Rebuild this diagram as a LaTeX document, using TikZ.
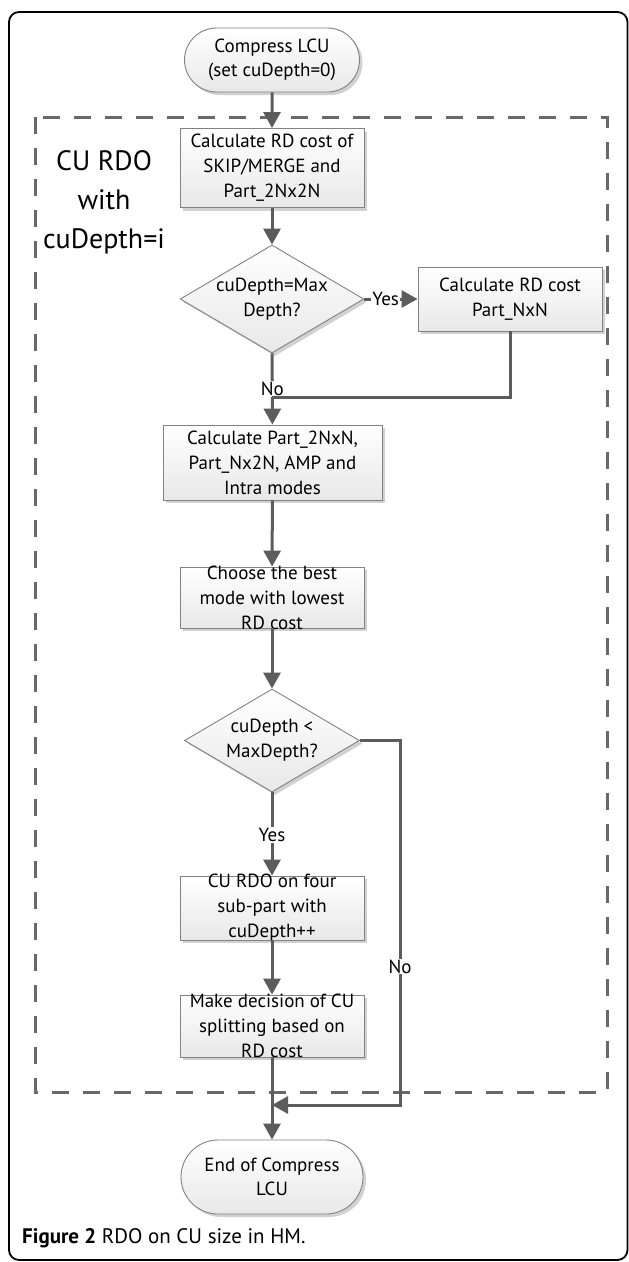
\documentclass[tikz,border=0pt]{standalone}
\usepackage{fontspec}
\setmainfont{PT Sans}
\usepackage{tikz}
\usetikzlibrary{arrows.meta,positioning,calc,shapes.geometric,shapes.misc,shadows}
\definecolor{lncolor}{RGB}{92,92,92}
\definecolor{bdcolor}{RGB}{130,130,130}
\definecolor{dshcolor}{RGB}{105,105,105}
\tikzset{
  flowln/.style={-{Triangle[length=16pt,width=17pt]}, line width=3pt, lncolor},
  joinln/.style={line width=3pt, lncolor},
  boxfill/.style={draw=bdcolor, line width=0.9pt, top color=white, bottom color=black!9,
    drop shadow={shadow xshift=3pt, shadow yshift=-3pt, fill=black!18, opacity=1}},
  procbox/.style={boxfill, rectangle, align=center, font=\fontsize{19}{25}\selectfont,
    inner xsep=4pt, inner ysep=0pt, minimum width=184pt},
  termbox/.style={boxfill, rounded rectangle, align=center, font=\fontsize{19}{24}\selectfont,
    minimum width=176pt, minimum height=72pt, inner sep=0pt},
  decbox/.style={boxfill, diamond, align=center, font=\fontsize{19}{25}\selectfont,
    aspect=1.7, inner sep=0pt, minimum width=172pt, minimum height=100pt},
  lbl/.style={fill=white, font=\fontsize{19}{20}\selectfont, inner sep=1pt, text=black},
}

\begin{document}
\begin{tikzpicture}[x=1pt, y=-1pt]
  \useasboundingbox (0,0) rectangle (629,1262);
  \draw[line width=1.8pt, rounded corners=10pt] (9,12) rectangle (627.5,1260);
  \draw[dshcolor, line width=3pt, dash pattern=on 17pt off 14pt] (35,117) rectangle (607,1092);

  % CU RDO loop body
  \node[font=\fontsize{28}{39}\selectfont, align=center] (rdolbl) at (104,202)
    {CU RDO\\with\\cuDepth=i};

  \node[termbox, minimum width=175pt, minimum height=64pt] (start) at (272,60)
    {Compress LCU\\(set cuDepth=0)};
  \node[procbox, minimum height=79pt] (rdbase) at (272,168)
    {Calculate RD cost of\\SKIP/MERGE and\\Part\_2Nx2N};
  \node[decbox] (maxdec) at (272,299) {cuDepth=Max\\Depth?};
  \node[procbox, minimum height=64pt] (nxn) at (510,299)
    {Calculate RD cost\\Part\_NxN};
  \node[procbox, minimum width=219pt, minimum height=75pt] (modes) at (272.5,462.5)
    {Calculate Part\_2NxN,\\Part\_Nx2N, AMP and\\Intra modes};
  \node[procbox, minimum height=61pt, inner ysep=-2pt] (choose) at (272,597.5)
    {Choose the best\\mode with lowest\\RD cost};
  \node[decbox, minimum width=175pt, minimum height=103pt] (depthdec) at (272,740.5)
    {cuDepth <\\MaxDepth?};
  \node[procbox, minimum height=64pt, inner ysep=-2.25pt] (quad) at (272,908)
    {CU RDO on four\\sub-part with\\cuDepth++};
  \node[procbox, minimum height=62pt, inner ysep=-1pt] (split) at (272,1026)
    {Make decision of CU\\splitting based on\\RD cost};
  \node[termbox, minimum width=182pt, minimum height=74pt] (finish) at (272,1177)
    {End of Compress\\LCU};

  \node[anchor=west, font=\fontsize{21}{24}\selectfont, inner sep=0pt] (caption) at (22,1238)
    {\textbf{Figure 2} RDO on CU size in HM.};

  % connectors
  \coordinate (join1) at (272,397);
  \coordinate (join2) at (272,1105);
  \coordinate (nocorner) at (400,1105);
  \draw[flowln] (start) -- (rdbase);
  \draw[flowln] (rdbase) -- (maxdec);
  \draw[flowln] (maxdec) -- node[lbl, pos=0.4]{Yes} (nxn);
  \draw[flowln] (maxdec) -- node[lbl, pos=0.5]{No} (modes);
  \draw[joinln] (nxn.south) |- (join1);
  \draw[flowln] (modes) -- (choose);
  \draw[flowln] (choose) -- (depthdec);
  \draw[flowln] (depthdec) -- node[lbl, pos=0.51]{Yes} (quad);
  \draw[flowln] (quad) -- (split);
  \draw[flowln] (split) -- (finish);
  \draw[flowln] (depthdec.east) -| node[lbl, pos=0.81]{No} (nocorner) -- (join2);
\end{tikzpicture}
\end{document}
